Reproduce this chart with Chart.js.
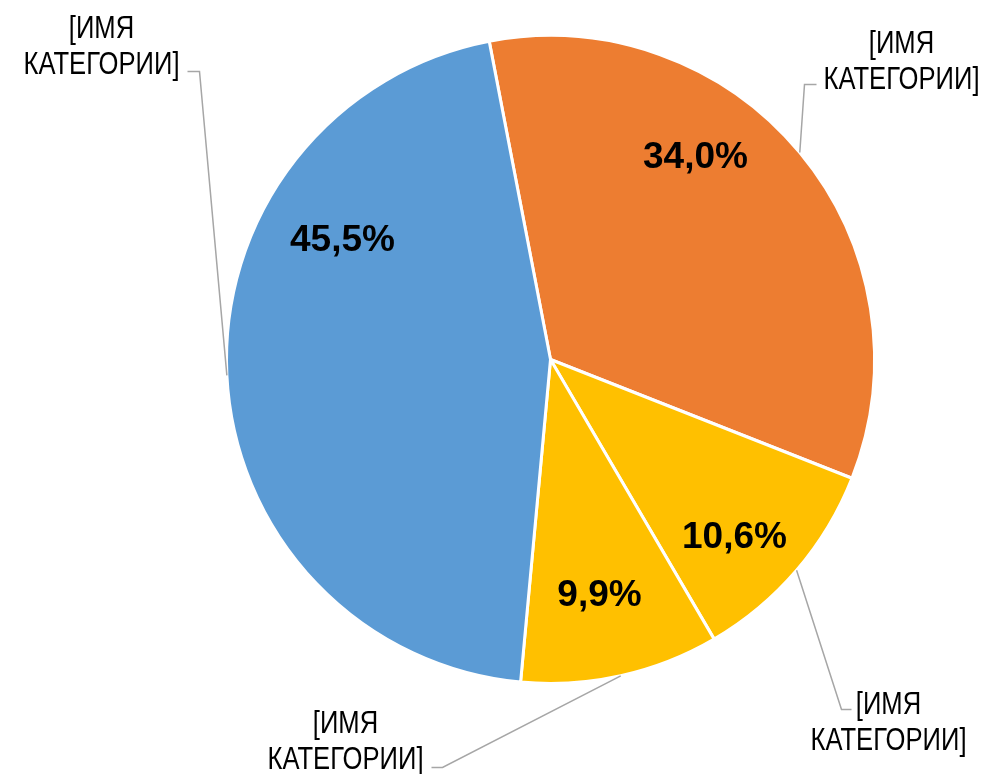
<!DOCTYPE html>
<html>
<head>
<meta charset="utf-8">
<script src="https://cdn.jsdelivr.net/npm/chart.js@4"></script>
<style>
  html, body { margin: 0; padding: 0; background: #fff; }
  #wrap { width: 987px; height: 774px; position: relative; }
</style>
</head>
<body>
<div id="wrap"><canvas id="myChart"></canvas></div>
<script>
// data
const categories = ["[ИМЯ КАТЕГОРИИ]", "[ИМЯ КАТЕГОРИИ]", "[ИМЯ КАТЕГОРИИ]", "[ИМЯ КАТЕГОРИИ]"];
const shares = [34.0, 10.6, 9.9, 45.5];
const sliceColors = ["#ED7D31", "#FFC000", "#FFC000", "#5B9BD5"];

// label placement, in px from the pie centre (value label) and for the callouts
const valueLabelPos = [[145, -205], [184, 175], [49, 233], [-208, -122]];
const callouts = [
    { elbow: [254, -275], end: [266, -275], textX: 351, line2: -271 },
    { elbow: [291, 350], end: [301, 350], textX: 338, line2: 390 },
    { elbow: [-108, 408], end: [-119, 408], textX: -205, line2: 409 },
    { elbow: [-351, -288], end: [-363, -288], textX: -449, line2: -286 }
];

// no narrow font installed, so squeeze the regular one like Arial Narrow
function narrowText(c, text, x, y) {
    c.save();
    c.translate(x, y);
    c.scale(0.8, 1);
    c.fillText(text, 0, 0);
    c.restore();
}

const labelPlugin = {
    id: "pieLabels",
    afterDatasetsDraw(chart) {
        const c = chart.ctx;
        const arcs = chart.getDatasetMeta(0).data;
        c.save();
        arcs.forEach((arc, i) => {
            const cx = arc.x, cy = arc.y;
            const co = callouts[i];
            const mid = (arc.startAngle + arc.endAngle) / 2;
            const r = arc.outerRadius;

            // leader line
            c.strokeStyle = "#A6A6A6";
            c.lineWidth = 1.5;
            c.beginPath();
            c.moveTo(cx + Math.cos(mid) * r, cy + Math.sin(mid) * r);
            c.lineTo(cx + co.elbow[0], cy + co.elbow[1]);
            c.lineTo(cx + co.end[0], cy + co.end[1]);
            c.stroke();

            // category name, two lines
            const words = categories[i].split(" ");
            c.fillStyle = "#000";
            c.font = "32px 'Liberation Sans', Arial, sans-serif";
            c.textAlign = "center";
            c.textBaseline = "alphabetic";
            narrowText(c, words[0], cx + co.textX, cy + co.line2 - 36);
            narrowText(c, words[1], cx + co.textX, cy + co.line2);

            // value
            c.font = "bold 37px 'Liberation Sans', Arial, sans-serif";
            const txt = shares[i].toFixed(1).replace(".", ",") + "%";
            c.fillText(txt, cx + valueLabelPos[i][0], cy + valueLabelPos[i][1] + 13);
        });
        c.restore();
    }
};

new Chart(document.getElementById("myChart").getContext("2d"), {
    type: "pie",
    data: {
        labels: categories,
        datasets: [{
            data: shares,
            backgroundColor: sliceColors,
            borderColor: "#FFFFFF",
            borderWidth: 3
        }]
    },
    options: {
        responsive: true,
        maintainAspectRatio: false,
        animation: false,
        rotation: -10.9,
        layout: { padding: { left: 225, right: 111, top: 34, bottom: 89 } },
        plugins: {
            legend: { display: false },
            tooltip: { enabled: false }
        }
    },
    plugins: [labelPlugin]
});
</script>
</body>
</html>
